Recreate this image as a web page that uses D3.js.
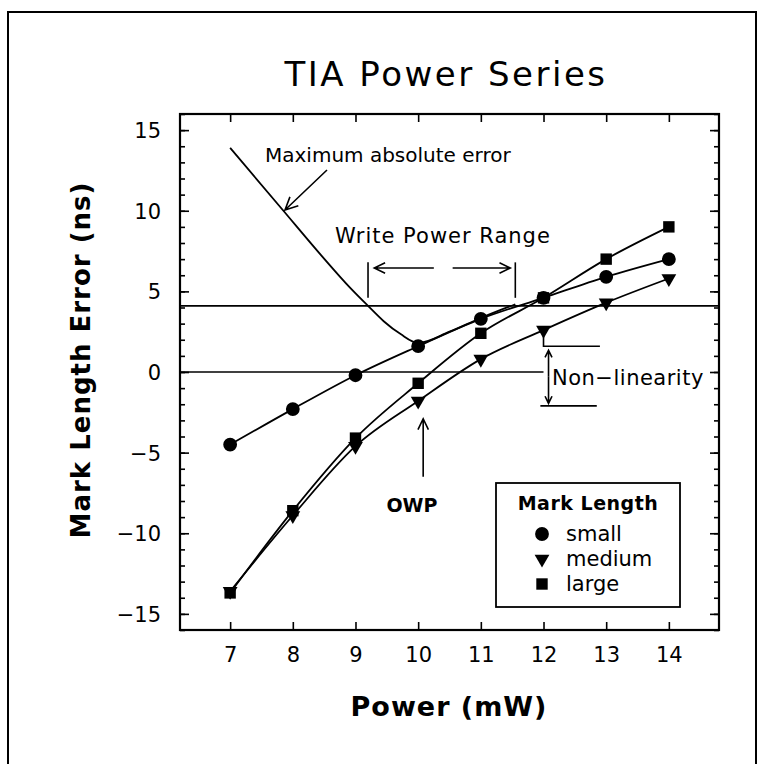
<!DOCTYPE html>
<html>
<head>
<meta charset="utf-8">
<script src="https://cdn.jsdelivr.net/npm/d3@7"></script>
<style>
  body { margin: 0; background: #fff; }
  svg text { font-family: "DejaVu Sans", "Liberation Sans", sans-serif; fill: #000; }
</style>
</head>
<body>
<svg id="chart" width="760" height="764"></svg>
<script>
// ---------------- DATA ----------------
const powers = [7, 8, 9, 10, 11, 12, 13, 14];
const smallErr = [-4.5, -2.3, -0.2, 1.6, 3.3, 4.6, 5.9, 7.0];
const mediumErr = [-13.6, -8.9, -4.6, -1.8, 0.8, 2.6, 4.3, 5.8];
const largeErr = [-13.7, -8.6, -4.1, -0.7, 2.4, 4.6, 7.0, 9.0];

// maximum absolute error curve
const maxErrPower = [7, 7.85, 8.45, 8.92, 9.2, 9.45, 9.72, 10, 10.5, 11, 11.55];
const maxErrValue = [13.9, 10.0, 7.25, 5.2, 4.1, 3.15, 2.35, 1.8, 2.5, 3.35, 4.2];

const xTicks = [7, 8, 9, 10, 11, 12, 13, 14];
const yMajorTicks = [-15, -10, -5, 0, 5, 10, 15];
const yMinorTicks = d3.range(-16, 17, 1);

const limitLevel = 4.1;      // horizontal limit line
const writeRange = [9.2, 11.55];
const owpPower = 10.08;

const seriesNames = ["small", "medium", "large"];

// ---------------- LAYOUT ----------------
const svg = d3.select("#chart");
const plotLeft = 180, plotRight = 719, plotTop = 114, plotBottom = 630;

const x = d3.scaleLinear().domain([6.2, 14.8]).range([plotLeft, plotRight]);
const y = d3.scaleLinear().domain([-16, 16]).range([plotBottom, plotTop]);

// outer frame (open at the bottom)
svg.append("path")
  .attr("d", `M8,764 L8,12 L756,12 L756,764`)
  .attr("fill", "none")
  .attr("stroke", "#000")
  .attr("stroke-width", 2);

// title
svg.append("text")
  .attr("x", 446)
  .attr("y", 86)
  .attr("text-anchor", "middle")
  .attr("font-size", 34)
  .attr("letter-spacing", 2.5)
  .text("TIA Power Series");

// ---------------- AXES ----------------
const g = svg.append("g");

// left axis: labelled major ticks, minor every 1
g.append("g")
  .attr("transform", `translate(${plotLeft},0)`)
  .call(d3.axisRight(y).tickValues(yMinorTicks).tickSize(5).tickFormat(""))
  .call(a => a.select(".domain").remove());
g.append("g")
  .attr("transform", `translate(${plotLeft},0)`)
  .call(d3.axisRight(y).tickValues(yMajorTicks).tickSize(9).tickFormat(""))
  .call(a => a.select(".domain").remove());
g.append("g")
  .attr("transform", `translate(${plotLeft - 16},0)`)
  .call(d3.axisLeft(y).tickValues(yMajorTicks).tickSize(0)
    .tickFormat(d => (d < 0 ? "\u2212" + Math.abs(d) : d)))
  .call(a => a.select(".domain").remove())
  .call(a => a.selectAll("text").attr("font-size", 21).attr("font-family", "DejaVu Sans").attr("dy", "0.36em"));

// right axis ticks
g.append("g")
  .attr("transform", `translate(${plotRight},0)`)
  .call(d3.axisLeft(y).tickValues(yMinorTicks).tickSize(5).tickFormat(""))
  .call(a => a.select(".domain").remove());
g.append("g")
  .attr("transform", `translate(${plotRight},0)`)
  .call(d3.axisLeft(y).tickValues(yMajorTicks).tickSize(9).tickFormat(""))
  .call(a => a.select(".domain").remove());

// bottom axis
g.append("g")
  .attr("transform", `translate(0,${plotBottom})`)
  .call(d3.axisTop(x).tickValues(xTicks).tickSize(8).tickFormat(""))
  .call(a => a.select(".domain").remove());
g.append("g")
  .attr("transform", `translate(0,${plotBottom + 14})`)
  .call(d3.axisBottom(x).tickValues(xTicks).tickSize(0))
  .call(a => a.select(".domain").remove())
  .call(a => a.selectAll("text").attr("font-size", 21).attr("font-family", "DejaVu Sans"));

// top axis
g.append("g")
  .attr("transform", `translate(0,${plotTop})`)
  .call(d3.axisBottom(x).tickValues(xTicks).tickSize(8).tickFormat(""))
  .call(a => a.select(".domain").remove());

g.selectAll(".tick line").attr("stroke", "#000").attr("stroke-width", 1.6);

// plot frame
svg.append("rect")
  .attr("x", plotLeft).attr("y", plotTop)
  .attr("width", plotRight - plotLeft).attr("height", plotBottom - plotTop)
  .attr("fill", "none").attr("stroke", "#000").attr("stroke-width", 2.2);

// axis titles
svg.append("text")
  .attr("x", 449)
  .attr("y", 716)
  .attr("text-anchor", "middle")
  .attr("font-size", 27)
  .attr("font-weight", "bold")
  .attr("letter-spacing", 1)
  .text("Power (mW)");

svg.append("text")
  .attr("transform", `translate(90,${(plotTop + plotBottom) / 2 - 12}) rotate(-90)`)
  .attr("text-anchor", "middle")
  .attr("font-size", 26)
  .attr("font-weight", "bold")
  .attr("letter-spacing", 1)
  .text("Mark Length Error (ns)");

// ---------------- REFERENCE LINES ----------------
svg.append("line")
  .attr("x1", plotLeft).attr("x2", plotRight)
  .attr("y1", y(limitLevel)).attr("y2", y(limitLevel))
  .attr("stroke", "#000").attr("stroke-width", 1.7);

svg.append("line")
  .attr("x1", plotLeft).attr("x2", x(12))
  .attr("y1", y(0)).attr("y2", y(0))
  .attr("stroke", "#000").attr("stroke-width", 1.7);

// ---------------- SERIES ----------------
const line = d3.line()
  .x(d => x(d[0]))
  .y(d => y(d[1]))
  .curve(d3.curveMonotoneX);

const series = [
  { name: "small", values: smallErr, symbol: d3.symbolCircle, size: 150 },
  { name: "medium", values: mediumErr, symbol: d3.symbolTriangle, size: 95 },
  { name: "large", values: largeErr, symbol: d3.symbolSquare, size: 130 }
];

series.forEach(s => {
  const pts = powers.map((p, i) => [p, s.values[i]]);
  svg.append("path")
    .datum(pts)
    .attr("d", line)
    .attr("fill", "none")
    .attr("stroke", "#000")
    .attr("stroke-width", 1.8);
});

series.forEach(s => {
  const pts = powers.map((p, i) => [p, s.values[i]]);
  svg.append("g").selectAll("path")
    .data(pts)
    .join("path")
    .attr("transform", d => `translate(${x(d[0])},${y(d[1])})` + (s.name === "medium" ? " rotate(180)" : ""))
    .attr("d", d3.symbol().type(s.symbol).size(s.size))
    .attr("fill", "#000");
});

// maximum absolute error curve
svg.append("path")
  .datum(maxErrPower.map((p, i) => [p, maxErrValue[i]]))
  .attr("d", line)
  .attr("fill", "none")
  .attr("stroke", "#000")
  .attr("stroke-width", 1.8);

// ---------------- ANNOTATIONS ----------------
function arrow(x1, y1, x2, y2, headLen) {
  // shaft from (x1,y1) to tip (x2,y2), open V head at tip
  const ang = Math.atan2(y2 - y1, x2 - x1);
  const h = headLen || 11;
  const a1 = ang + Math.PI - 0.45, a2 = ang + Math.PI + 0.45;
  svg.append("path")
    .attr("d", `M${x1},${y1} L${x2},${y2} M${x2 + h * Math.cos(a1)},${y2 + h * Math.sin(a1)} L${x2},${y2} L${x2 + h * Math.cos(a2)},${y2 + h * Math.sin(a2)}`)
    .attr("fill", "none")
    .attr("stroke", "#000")
    .attr("stroke-width", 1.6);
}

svg.append("text")
  .attr("x", 265).attr("y", 162)
  .attr("font-size", 20)
  .text("Maximum absolute error");
arrow(327, 170, 285, 210, 14);

svg.append("text")
  .attr("x", 335).attr("y", 243)
  .attr("font-size", 21)
  .attr("letter-spacing", 1)
  .text("Write Power Range");

// write power range markers
writeRange.forEach(p => {
  svg.append("line")
    .attr("x1", x(p)).attr("x2", x(p))
    .attr("y1", y(6.8)).attr("y2", y(4.6))
    .attr("stroke", "#000").attr("stroke-width", 1.6);
});
arrow(x(10.25), y(6.45), x(9.3), y(6.45), 12);
arrow(x(10.55), y(6.45), x(11.47), y(6.45), 12);

// non-linearity bracket
svg.append("path")
  .attr("d", `M${x(12)},${y(2.6)} L${x(12)},${y(1.6)} L${x(12.9)},${y(1.6)}`)
  .attr("fill", "none").attr("stroke", "#000").attr("stroke-width", 1.6);
svg.append("line")
  .attr("x1", x(11.95)).attr("x2", x(12.85))
  .attr("y1", y(-2.1)).attr("y2", y(-2.1))
  .attr("stroke", "#000").attr("stroke-width", 1.6);
arrow(x(12.08), y(-0.3), x(12.08), y(1.35), 8);
arrow(x(12.08), y(-0.3), x(12.08), y(-1.95), 8);
svg.append("text")
  .attr("x", 552).attr("y", 385)
  .attr("font-size", 21)
  .attr("letter-spacing", 0.5)
  .text("Non\u2212linearity");

// OWP
arrow(x(owpPower), y(-6.5), x(owpPower), y(-2.9), 12);
svg.append("text")
  .attr("x", 412).attr("y", 512)
  .attr("text-anchor", "middle")
  .attr("font-size", 19)
  .attr("font-weight", "bold")
  .text("OWP");

// ---------------- LEGEND ----------------
const legend = svg.append("g");
legend.append("rect")
  .attr("x", 496).attr("y", 483)
  .attr("width", 184).attr("height", 124)
  .attr("fill", "#fff").attr("stroke", "#000").attr("stroke-width", 1.8);
legend.append("text")
  .attr("x", 588).attr("y", 510)
  .attr("text-anchor", "middle")
  .attr("font-size", 19)
  .attr("font-weight", "bold")
  .attr("letter-spacing", 0.5)
  .text("Mark Length");

series.forEach((s, i) => {
  const ly = 534 + i * 25;
  legend.append("path")
    .attr("transform", `translate(542,${ly})` + (s.name === "medium" ? " rotate(180)" : ""))
    .attr("d", d3.symbol().type(s.symbol).size(s.size))
    .attr("fill", "#000");
  legend.append("text")
    .attr("x", 566).attr("y", ly + 7)
    .attr("font-size", 21)
    .text(seriesNames[i]);
});
</script>
</body>
</html>
